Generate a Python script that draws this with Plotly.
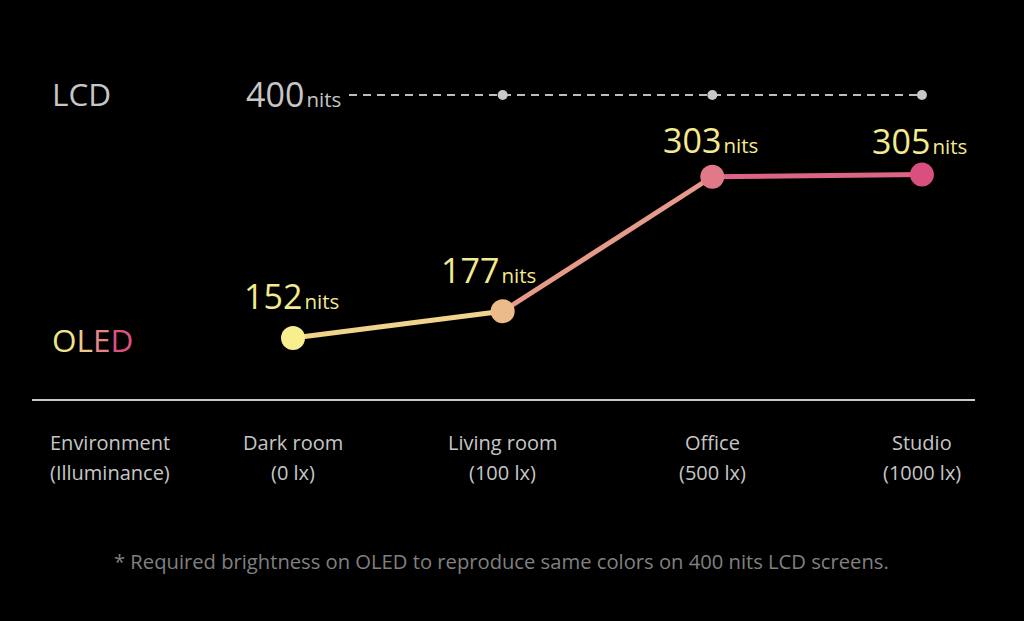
import plotly.graph_objects as go

# ---- data ----
categories = ["Dark room", "Living room", "Office", "Studio"]
illuminance = ["(0 lx)", "(100 lx)", "(500 lx)", "(1000 lx)"]
oled_nits = [152, 177, 303, 305]
lcd_nits = [400, 400, 400, 400]
axis_title = ["Environment", "(Illuminance)"]
footnote = "* Required brightness on OLED to reproduce same colors on 400 nits LCD screens."

# ---- styles ----
FONT = "Open Sans"
GRAY = "#c6c6c6"
YELLOW = "#f4ea8e"
point_colors = ["#f7ee8e", "#ebbb8a", "#e07a88", "#d84f80"]
label_xshift = [-2, -14, -2, -2]
label_yshift = [42, 41, 37, 34]
UNIT = "<span style='font-size:8px'> </span><span style='font-size:20.5px'>nits</span>"


def blend(c1, c2, t=0.5):
    a = [int(c1[i:i + 2], 16) for i in (1, 3, 5)]
    b = [int(c2[i:i + 2], 16) for i in (1, 3, 5)]
    return "#" + "".join(f"{round(a[k] + (b[k] - a[k]) * t):02x}" for k in range(3))


x = list(range(len(categories)))
W, H = 1024, 621

fig = go.Figure()

# LCD reference line
fig.add_trace(go.Scatter(x=x, y=lcd_nits, yaxis="y2", mode="lines",
                         line=dict(color="#bdbdbd", width=2, dash="8px,6px"),
                         hoverinfo="skip"))
fig.add_trace(go.Scatter(x=x[1:], y=lcd_nits[1:], yaxis="y2", mode="markers",
                         marker=dict(color="#c8c8c8", size=10), hoverinfo="skip"))

# OLED line segments (colour blended between end points)
for i in range(len(x) - 1):
    fig.add_trace(go.Scatter(x=x[i:i + 2], y=oled_nits[i:i + 2], mode="lines",
                             line=dict(color=blend(point_colors[i], point_colors[i + 1]), width=5),
                             hoverinfo="skip"))
fig.add_trace(go.Scatter(x=x, y=oled_nits, mode="markers",
                         marker=dict(color=point_colors, size=24), hoverinfo="skip"))

ann = []
# value labels
for i, v in enumerate(oled_nits):
    ann.append(dict(x=x[i], y=v, xref="x", yref="y", showarrow=False,
                    text=f"{v}{UNIT}",
                    font=dict(family=FONT, size=34, color=YELLOW),
                    xanchor="center", yanchor="middle",
                    xshift=label_xshift[i], yshift=label_yshift[i]))
# LCD value label
ann.append(dict(x=x[0], y=lcd_nits[0], xref="x", yref="y2", showarrow=False,
                text=f"{lcd_nits[0]}{UNIT}",
                font=dict(family=FONT, size=34, color=GRAY),
                bgcolor="black", borderpad=4,
                xanchor="center", yanchor="middle", yshift=1))
# series labels
ann.append(dict(x=50 / W, y=1 - 93 / H, xref="paper", yref="paper", showarrow=False,
                text="LCD", font=dict(family=FONT, size=31.5, color=GRAY),
                xanchor="left", yanchor="middle"))
oled_letters = ["O", "L", "E", "D"]
oled_letter_colors = ["#efe48a", "#ecc98b", "#e3848a", "#d9527f"]
ann.append(dict(x=50 / W, y=1 - 339 / H, xref="paper", yref="paper", showarrow=False,
                text="".join(f"<span style='color:{c}'>{l}</span>"
                             for l, c in zip(oled_letters, oled_letter_colors)),
                font=dict(family=FONT, size=31.5, color=GRAY),
                xanchor="left", yanchor="middle"))
# category labels
for i, (c, il) in enumerate(zip(categories, illuminance)):
    ann.append(dict(x=x[i], y=1 - 443 / H, xref="x", yref="paper", showarrow=False,
                    text=c, font=dict(family=FONT, size=20, color=GRAY),
                    xanchor="center", yanchor="middle"))
    ann.append(dict(x=x[i], y=1 - 472 / H, xref="x", yref="paper", showarrow=False,
                    text=il, font=dict(family=FONT, size=20, color=GRAY),
                    xanchor="center", yanchor="middle"))
ann.append(dict(x=110 / W, y=1 - 443 / H, xref="paper", yref="paper", showarrow=False,
                text=axis_title[0], font=dict(family=FONT, size=20, color=GRAY),
                xanchor="center", yanchor="middle"))
ann.append(dict(x=110 / W, y=1 - 472 / H, xref="paper", yref="paper", showarrow=False,
                text=axis_title[1], font=dict(family=FONT, size=20, color=GRAY),
                xanchor="center", yanchor="middle"))
# footnote
ann.append(dict(x=501 / W, y=1 - 561 / H, xref="paper", yref="paper", showarrow=False,
                text=footnote, font=dict(family=FONT, size=20.2, color="#808080"),
                xanchor="center", yanchor="middle"))

fig.update_layout(
    width=W, height=H,
    margin=dict(l=0, r=0, t=0, b=0),
    paper_bgcolor="black", plot_bgcolor="black",
    showlegend=False,
    xaxis=dict(domain=[32 / W, 975 / W], range=[-1.245, 3.253],
               showgrid=False, zeroline=False, showticklabels=False, ticks="",
               showline=True, linecolor="#c8c8c8", linewidth=2, fixedrange=True),
    yaxis=dict(domain=[222 / H, 1], range=[94.9, 468.5], visible=False, fixedrange=True),
    yaxis2=dict(overlaying="y", range=[0, 525], visible=False, fixedrange=True),
    annotations=ann,
)

fig.write_html(
    "out.html",
    config={"displayModeBar": False},
    post_script="document.body.style.margin='0';document.body.style.background='black';",
)
